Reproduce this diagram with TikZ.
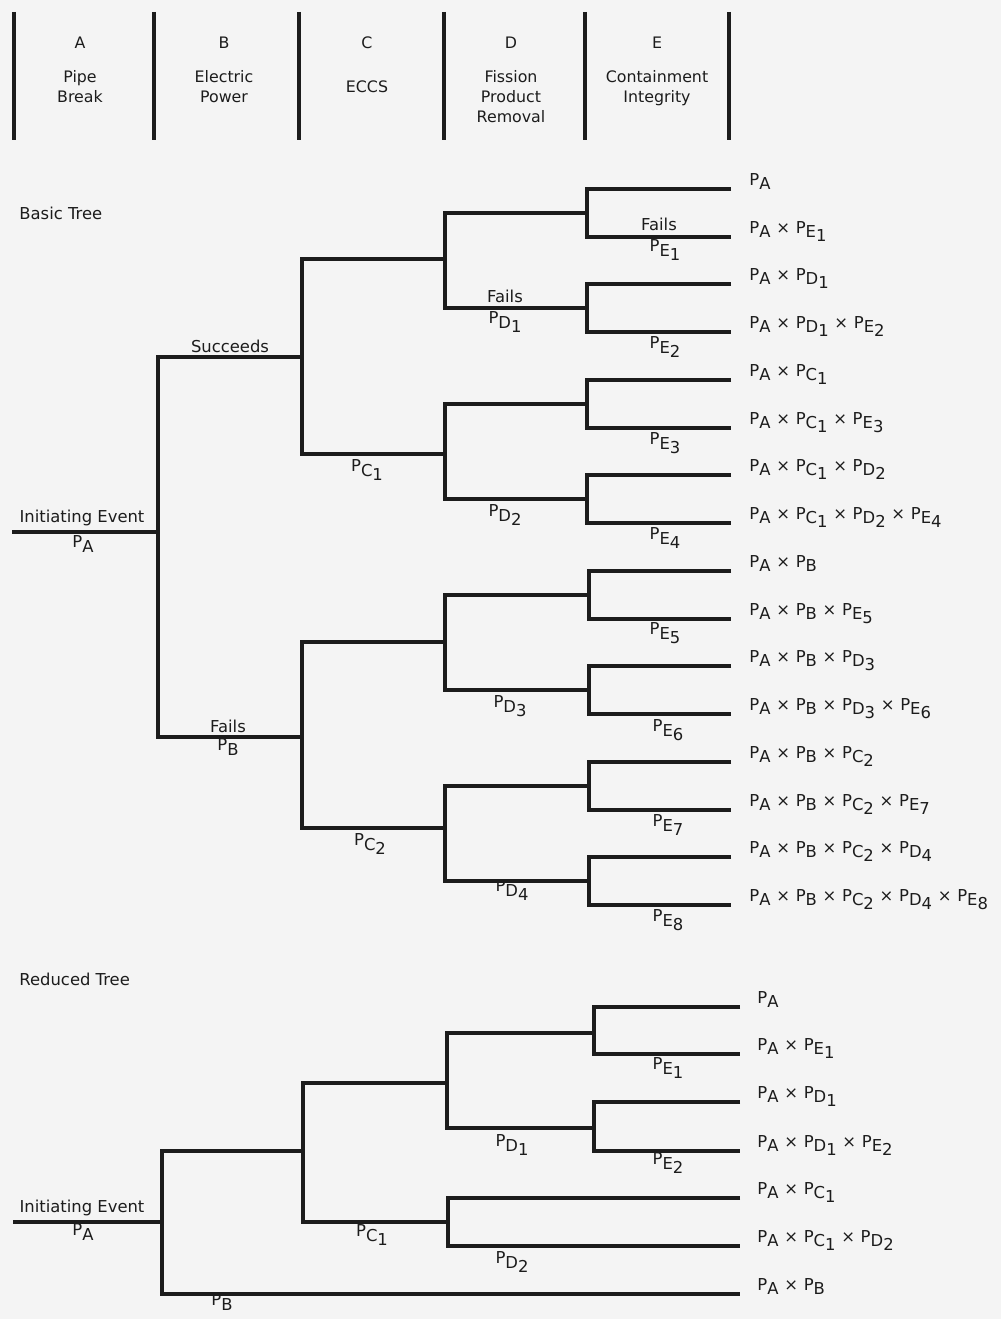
\documentclass[tikz,border=0pt]{standalone}
\usepackage{fontspec}
\setmainfont{DejaVu Sans}
\usetikzlibrary{calc}
\definecolor{paper}{RGB}{244,244,244}
\definecolor{ink}{RGB}{28,28,28}
\newcommand{\pr}[2]{P\raisebox{-.55ex}{#1\raisebox{-.4ex}{#2}}}
\newcommand{\tms}{\hspace{.35em}×\hspace{.35em}}
\begin{document}
\begin{tikzpicture}[x=0.03cm,y=-0.03cm,
  br/.style={line width=2.6pt,draw=ink},
  txt/.style={inner sep=1pt,text=ink,font=\fontsize{14}{16}\selectfont},
  hd/.style={inner sep=1pt,text=ink,align=center,font=\fontsize{13.5}{17}\selectfont}]
\fill[paper] (0,0) rectangle (1001,1319);
\useasboundingbox (0,0) rectangle (1001,1319);

% column heads
\foreach \x in {14,154,299,444,585,729} \draw[br] (\x,12) -- (\x,140);
\foreach \n/\x/\y/\t in
  {A/80/69/{Pipe\\Break},
   B/224/69/{Electric\\Power},
   C/367/79/{ECCS},
   D/511/69/{Fission\\Product\\Removal},
   E/657/69/{Containment\\Integrity}}
 {
  \node[hd] (head\n) at (\x,43) {\n};
  \node[hd,anchor=north] (title\n) at (\x,\y) {\t};
 }

% basic tree
\node[txt,anchor=west] (basic) at (18,213) {Basic Tree};
\foreach \n/\x/\y in
  {ia/12/532, a0/158/532, b1/302/357, b2/302/737,
   c1/445/259, c2/445/454, c3/445/642, c4/445/828,
   d1/587/213, d2/587/308, d3/587/404, d4/587/499,
   d5/589/595, d6/589/690, d7/589/786, d8/589/881}
  \coordinate (\n) at (\x,\y);
\foreach \i/\y in {1/189,2/237,3/284,4/332,5/380,6/428,7/475,8/523,
                   9/571,10/619,11/666,12/714,13/762,14/810,15/857,16/905}
  \coordinate (o\i) at (731,\y);
\draw[br] (ia) -- (a0);
\foreach \s/\u/\d in
  {a0/b1/b2, b1/c1/c2, b2/c3/c4,
   c1/d1/d2, c2/d3/d4, c3/d5/d6, c4/d7/d8,
   d1/o1/o2, d2/o3/o4, d3/o5/o6, d4/o7/o8,
   d5/o9/o10, d6/o11/o12, d7/o13/o14, d8/o15/o16}
  \draw[br] (\u) -| (\s) |- (\d);
\foreach \n/\x/\y/\t in
  {ie/82/518/{Initiating Event}, pA/83/546/{\pr{A}{}},
   sB/230/346/{Succeeds}, fB/228/726/{Fails}, pB/228/749/{\pr{B}{}},
   pC1/367/470/{\pr{C}{1}}, pC2/370/844/{\pr{C}{2}},
   fD/505/296/{Fails}, pD1/505/322/{\pr{D}{1}}, pD2/505/515/{\pr{D}{2}},
   pD3/510/706/{\pr{D}{3}}, pD4/512/890/{\pr{D}{4}},
   fE/659/224/{Fails}, pE1/665/250/{\pr{E}{1}}, pE2/665/347/{\pr{E}{2}},
   pE3/665/443/{\pr{E}{3}}, pE4/665/538/{\pr{E}{4}}, pE5/665/633/{\pr{E}{5}},
   pE6/668/730/{\pr{E}{6}}, pE7/668/825/{\pr{E}{7}}, pE8/668/920/{\pr{E}{8}}}
  \node[txt] (\n) at (\x,\y) {\t};
\foreach \i/\t in
  {1/{\pr{A}{}},
   2/{\pr{A}{}\tms\pr{E}{1}},
   3/{\pr{A}{}\tms\pr{D}{1}},
   4/{\pr{A}{}\tms\pr{D}{1}\tms\pr{E}{2}},
   5/{\pr{A}{}\tms\pr{C}{1}},
   6/{\pr{A}{}\tms\pr{C}{1}\tms\pr{E}{3}},
   7/{\pr{A}{}\tms\pr{C}{1}\tms\pr{D}{2}},
   8/{\pr{A}{}\tms\pr{C}{1}\tms\pr{D}{2}\tms\pr{E}{4}},
   9/{\pr{A}{}\tms\pr{B}{}},
   10/{\pr{A}{}\tms\pr{B}{}\tms\pr{E}{5}},
   11/{\pr{A}{}\tms\pr{B}{}\tms\pr{D}{3}},
   12/{\pr{A}{}\tms\pr{B}{}\tms\pr{D}{3}\tms\pr{E}{6}},
   13/{\pr{A}{}\tms\pr{B}{}\tms\pr{C}{2}},
   14/{\pr{A}{}\tms\pr{B}{}\tms\pr{C}{2}\tms\pr{E}{7}},
   15/{\pr{A}{}\tms\pr{B}{}\tms\pr{C}{2}\tms\pr{D}{4}},
   16/{\pr{A}{}\tms\pr{B}{}\tms\pr{C}{2}\tms\pr{D}{4}\tms\pr{E}{8}}}
  \node[txt,anchor=base west] (out\i) at ($(o\i)+(17,-4)$) {\t};

% reduced tree
\node[txt,anchor=west] (reduced) at (18,979) {Reduced Tree};
\foreach \n/\x/\y in
  {ir/13/1222, r0/162/1222, rb1/303/1151, rc1/447/1083, rc2/448/1222,
   rd1/594/1033, rd2/594/1128}
  \coordinate (\n) at (\x,\y);
\foreach \i/\y in {1/1007,2/1054,3/1102,4/1151,5/1198,6/1246,7/1294}
  \coordinate (q\i) at (740,\y);
\draw[br] (ir) -- (r0);
\foreach \s/\u/\d in
  {r0/rb1/q7, rb1/rc1/rc2, rc1/rd1/rd2, rd1/q1/q2, rd2/q3/q4, rc2/q5/q6}
  \draw[br] (\u) -| (\s) |- (\d);
\foreach \n/\x/\y/\t in
  {ier/82/1208/{Initiating Event}, pAr/83/1234/{\pr{A}{}},
   pBr/222/1304/{\pr{B}{}}, pC1r/372/1235/{\pr{C}{1}},
   pD1r/512/1145/{\pr{D}{1}}, pD2r/512/1262/{\pr{D}{2}},
   pE1r/668/1068/{\pr{E}{1}}, pE2r/668/1163/{\pr{E}{2}}}
  \node[txt] (\n) at (\x,\y) {\t};
\foreach \i/\t in
  {1/{\pr{A}{}},
   2/{\pr{A}{}\tms\pr{E}{1}},
   3/{\pr{A}{}\tms\pr{D}{1}},
   4/{\pr{A}{}\tms\pr{D}{1}\tms\pr{E}{2}},
   5/{\pr{A}{}\tms\pr{C}{1}},
   6/{\pr{A}{}\tms\pr{C}{1}\tms\pr{D}{2}},
   7/{\pr{A}{}\tms\pr{B}{}}}
  \node[txt,anchor=base west] (rout\i) at ($(q\i)+(16,-4)$) {\t};
\end{tikzpicture}
\end{document}
